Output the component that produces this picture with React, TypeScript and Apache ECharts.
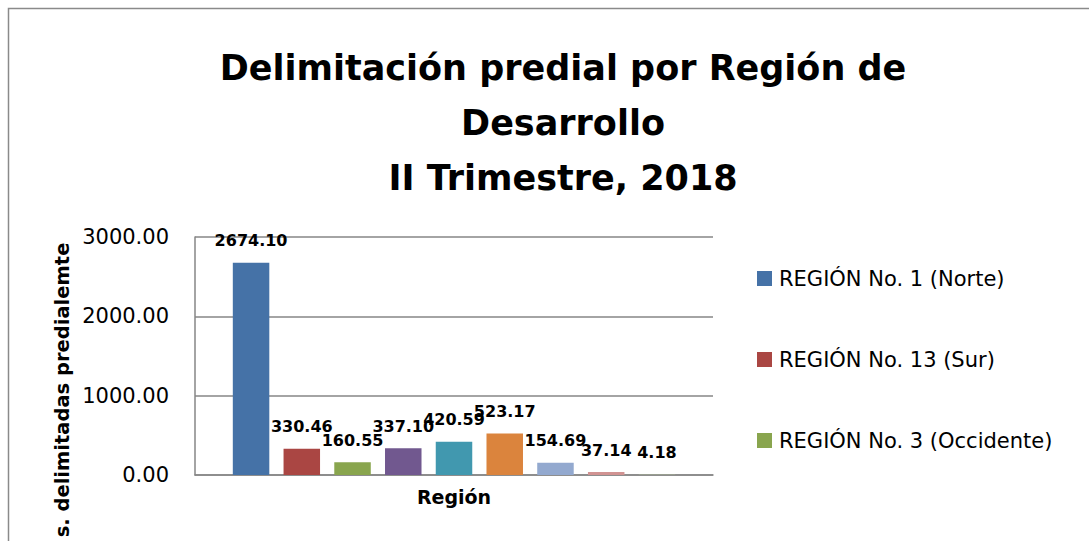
import React, { useEffect, useRef } from "react";
import * as echarts from "echarts";

const categories = ["Región"];
const seriesNames = [
  "REGIÓN No. 1 (Norte)",
  "REGIÓN No. 13 (Sur)",
  "REGIÓN No. 3 (Occidente)",
  "Serie 4",
  "Serie 5",
  "Serie 6",
  "Serie 7",
  "Serie 8",
  "Serie 9",
];
const seriesValues = [2674.1, 330.46, 160.55, 337.1, 420.59, 523.17, 154.69, 37.14, 4.18];
const seriesColors = [
  "#4572A7",
  "#AA4643",
  "#89A54E",
  "#71588F",
  "#4198AF",
  "#DB843D",
  "#93A9CF",
  "#D19392",
  "#B9CD96",
];
const legendNames = seriesNames.slice(0, 3);
const titleLines = ["Delimitación predial por Región de", "Desarrollo", "II Trimestre, 2018"];
const yAxisTitle = "s. delimitadas predialemte";

const FONT = "DejaVu Sans";

export default function App() {
  const ref = useRef<HTMLDivElement>(null);
  useEffect(() => {
    if (!ref.current) return;
    const chart = echarts.init(ref.current, null, { renderer: "svg" });
    chart.setOption({
      animation: false,
      backgroundColor: "#ffffff",
      title: {
        text: titleLines.join("\n"),
        left: 558,
        textAlign: "center",
        top: 35,
        textStyle: {
          fontFamily: FONT,
          fontWeight: "bold",
          fontSize: 35,
          lineHeight: 55,
          color: "#000",
        },
      },
      legend: {
        data: legendNames,
        orient: "vertical",
        left: 757,
        top: 268,
        padding: 0,
        itemWidth: 15,
        itemHeight: 15,
        itemGap: 60,
        icon: "rect",
        textStyle: { fontFamily: FONT, fontSize: 21, color: "#000", padding: [0, 0, 0, 2] },
      },
      grid: { left: 195, right: 376, top: 237, bottom: 66, containLabel: false },
      xAxis: {
        type: "category",
        data: categories,
        axisLine: { lineStyle: { color: "#868686", width: 1.5 } },
        axisTick: { show: false },
        axisLabel: {
          fontFamily: FONT,
          fontWeight: "bold",
          fontSize: 19,
          color: "#000",
          margin: 12,
        },
      },
      yAxis: {
        type: "value",
        min: 0,
        max: 3000,
        interval: 1000,
        axisLine: { show: true, lineStyle: { color: "#868686", width: 1.5 } },
        axisTick: { show: false },
        splitLine: { lineStyle: { color: "#868686", width: 1.5 } },
        axisLabel: {
          fontFamily: FONT,
          fontSize: 21,
          color: "#000",
          margin: 26,
          formatter: (v: number) => v.toFixed(2),
        },
      },
      graphic: [
        {
          type: "rect",
          shape: { x: 8.5, y: 8.5, width: 1200, height: 700 },
          style: { fill: "none", stroke: "#8a8a8a", lineWidth: 1.5 },
          silent: true,
        },
        {
          type: "text",
          x: 62,
          y: 390,
          rotation: Math.PI / 2,
          style: {
            text: yAxisTitle,
            fontFamily: FONT,
            fontWeight: "bold",
            fontSize: 19.5,
            fill: "#000",
            align: "center",
            verticalAlign: "middle",
          },
        },
      ],
      series: seriesNames.map((name, i) => ({
        name,
        type: "bar",
        data: [seriesValues[i]],
        barWidth: 36.5,
        barGap: "39%",
        itemStyle: { color: seriesColors[i] },
        label: {
          show: true,
          position: "top",
          distance: 14,
          fontFamily: FONT,
          fontWeight: "bold",
          fontSize: 16,
          color: "#000",
          formatter: (p: any) => Number(p.value).toFixed(2),
        },
      })),
    });
    return () => chart.dispose();
  }, []);
  return (
    <div
      ref={ref}
      style={{ position: "fixed", left: 0, top: 0, width: 1089, height: 541 }}
    />
  );
}
